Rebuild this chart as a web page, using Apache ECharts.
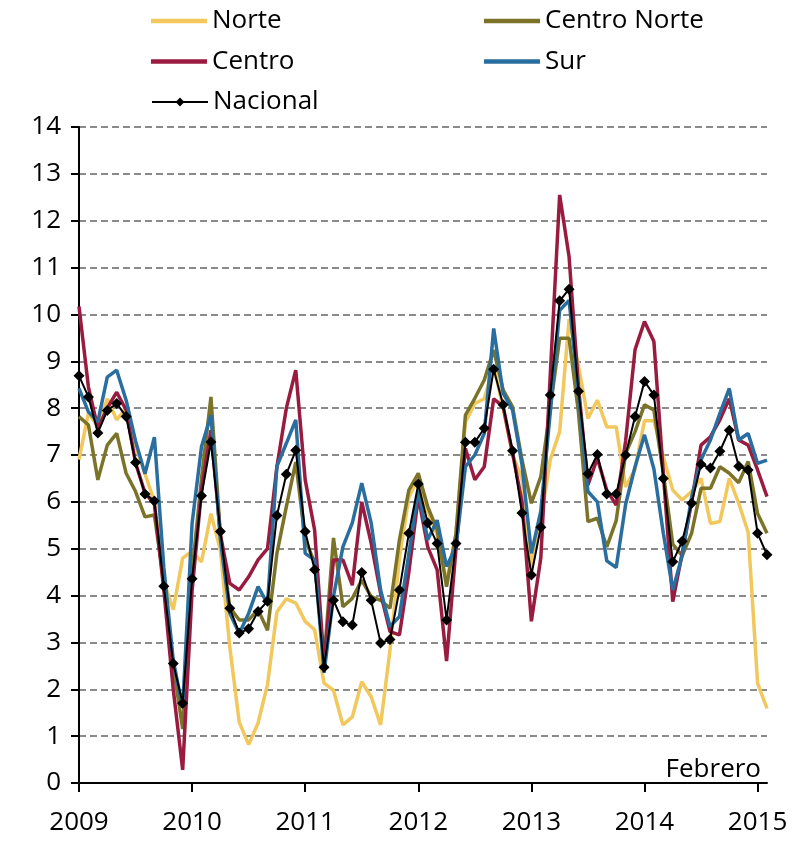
<!DOCTYPE html>
<html>
<head>
<meta charset="utf-8">
<script src="https://cdn.jsdelivr.net/npm/echarts@6/dist/echarts.min.js"></script>
<style>
  html, body { margin: 0; padding: 0; background: #fff; }
  #chart { width: 808px; height: 841px; }
</style>
</head>
<body>
<div id="chart"></div>
<script>
// meses ene 2009 - feb 2015
var years = ['2009', '2010', '2011', '2012', '2013', '2014', '2015'];
var months = [];
years.forEach(function (y) {
  for (var m = 1; m <= 12; m++) {
    if (y === '2015' && m > 2) break;
    months.push(y + '-' + (m < 10 ? '0' + m : m));
  }
});

var norte = [
  6.9, 7.9, 7.6, 8.2, 7.75, 8.0, 7.2, 6.6, 6.0, 4.3, 3.7, 4.8,
  4.95, 4.72, 5.75, 4.97, 2.9, 1.3, 0.82, 1.28, 2.1, 3.65, 3.93, 3.84,
  3.45, 3.27, 2.13, 1.98, 1.24, 1.41, 2.16, 1.84, 1.24, 2.84, 4.8, 6.1,
  6.5, 5.8, 5.3, 4.3, 5.3, 7.7, 8.1, 8.2, 8.9, 8.0, 7.0, 6.5,
  4.6, 5.6, 6.9, 7.5, 9.9, 8.9, 7.78, 8.17, 7.6, 7.6, 6.32, 6.7,
  7.73, 7.73, 6.96, 6.25, 6.04, 6.22, 6.5, 5.54, 5.58, 6.5, 5.97, 5.35,
  2.13, 1.59
];
var centroNorte = [
  7.82, 7.64, 6.47, 7.21, 7.46, 6.61, 6.22, 5.68, 5.72, 4.3, 2.5, 1.15,
  4.5, 6.5, 8.24, 5.3, 3.75, 3.48, 3.48, 3.7, 3.26, 4.9, 5.9, 6.85,
  5.2, 4.7, 2.6, 5.23, 3.76, 3.94, 4.33, 3.98, 3.9, 3.73, 5.19, 6.25,
  6.61, 5.9, 5.4, 4.19, 5.33, 7.85, 8.21, 8.6, 9.24, 8.39, 8.03, 6.9,
  5.97, 6.54, 8.0, 9.49, 9.49, 7.9, 5.58, 5.65, 5.04, 5.6, 7.03, 7.5,
  8.07, 7.96, 6.6, 5.1, 4.85, 5.33, 6.29, 6.29, 6.75, 6.61, 6.41, 6.86,
  5.75, 5.33
];
var centro = [
  10.17, 8.45, 7.57, 8.0, 8.34, 7.96, 6.83, 6.19, 5.95, 4.12, 2.0, 0.28,
  4.1, 6.25, 7.53, 5.3, 4.26, 4.12, 4.4, 4.76, 5.0, 6.75, 8.0, 8.81,
  6.47, 5.4, 2.56, 4.76, 4.76, 4.22, 6.0, 5.12, 4.05, 3.23, 3.16, 4.5,
  6.11, 5.04, 4.55, 2.6, 5.0, 7.14, 6.47, 6.75, 8.2, 8.04, 7.04, 6.0,
  3.45, 4.8, 8.7, 12.55, 11.23, 8.45, 6.36, 6.93, 6.25, 5.93, 7.3, 9.25,
  9.85, 9.42, 6.6, 3.87, 4.9, 6.0, 7.21, 7.39, 7.75, 8.2, 7.32, 7.21,
  6.68, 6.11
];
var sur = [
  8.42, 7.92, 7.71, 8.66, 8.81, 8.17, 7.3, 6.6, 7.38, 4.6, 2.62, 1.6,
  5.54, 7.18, 7.85, 5.2, 3.62, 3.19, 3.62, 4.19, 3.83, 6.76, 7.25, 7.75,
  4.9, 4.76, 2.35, 3.98, 5.04, 5.55, 6.4, 5.55, 4.12, 3.34, 3.55, 4.9,
  6.25, 5.19, 5.61, 4.62, 5.04, 6.75, 7.0, 7.46, 9.7, 8.32, 7.96, 6.8,
  4.9, 5.8, 7.9, 10.09, 10.3, 8.3, 6.22, 6.0, 4.74, 4.6, 5.95, 6.75,
  7.43, 6.7, 5.33, 4.12, 4.85, 6.1, 6.9, 7.32, 7.89, 8.42, 7.32, 7.46,
  6.82, 6.89
];
var nacional = [
  8.69, 8.24, 7.47, 7.95, 8.1, 7.82, 6.84, 6.17, 6.02, 4.2, 2.55, 1.7,
  4.36, 6.13, 7.28, 5.37, 3.73, 3.2, 3.29, 3.66, 3.88, 5.71, 6.59, 7.1,
  5.37, 4.55, 2.47, 3.9, 3.44, 3.37, 4.49, 3.9, 2.99, 3.06, 4.12, 5.33,
  6.38, 5.55, 5.11, 3.48, 5.11, 7.27, 7.27, 7.57, 8.83, 8.07, 7.09, 5.76,
  4.44, 5.46, 8.28, 10.29, 10.54, 8.36, 6.6, 7.01, 6.17, 6.17, 7.0, 7.82,
  8.57, 8.28, 6.5, 4.72, 5.16, 5.97, 6.8, 6.72, 7.08, 7.53, 6.76, 6.68,
  5.33, 4.87
];

var font = "'Open Sans', 'Noto Sans', sans-serif";

function regionLine(name, color, data) {
  return {
    name: name,
    type: 'line',
    symbol: 'none',
    lineStyle: { color: color, width: 3.5 },
    itemStyle: { color: color },
    data: data
  };
}

// una leyenda por bloque; las regiones solo llevan la raya
function legendBlock(left, top, names, icon, itemHeight) {
  return {
    orient: 'vertical',
    left: left,
    top: top,
    icon: icon,
    itemWidth: 56,
    itemHeight: itemHeight,
    itemGap: 10.5,
    textStyle: { fontSize: 26, lineHeight: 30, color: '#000', fontFamily: font },
    data: names
  };
}

var option = {
  animation: false,
  backgroundColor: '#fff',
  textStyle: { fontFamily: font },
  legend: [
    legendBlock(146, 1, ['Norte', 'Centro'], 'rect', 4.5),
    legendBlock(146, 82, ['Nacional'], 'inherit', 11),
    legendBlock(479, 1, ['Centro Norte', 'Sur'], 'rect', 4.5)
  ],
  grid: { left: 79, right: 41, top: 127, bottom: 58 },
  xAxis: {
    type: 'category',
    boundaryGap: false,
    data: months,
    axisLine: { lineStyle: { color: '#000', width: 2 } },
    axisTick: { interval: 11, length: 9, lineStyle: { color: '#000', width: 2 } },
    axisLabel: {
      interval: 11,
      margin: 27,
      fontSize: 26,
      color: '#000',
      formatter: function (value) {
        return value.substr(0, 4);
      }
    },
    splitLine: { show: false }
  },
  yAxis: {
    type: 'value',
    min: 0,
    max: 14,
    interval: 1,
    axisLine: { show: true, lineStyle: { color: '#000', width: 2 } },
    axisTick: { show: true, length: 8, lineStyle: { color: '#000', width: 2 } },
    axisLabel: { margin: 18, fontSize: 26, color: '#000' },
    splitLine: { lineStyle: { color: '#8a8a8a', width: 2, type: [7, 4] } }
  },
  graphic: [
    {
      type: 'text',
      right: 47,
      top: 757,
      style: { text: 'Febrero', font: '26px ' + font, fill: '#000' }
    }
  ],
  series: [
    regionLine('Norte', '#F2C75C', norte),
    regionLine('Centro Norte', '#7B7328', centroNorte),
    regionLine('Centro', '#991B40', centro),
    regionLine('Sur', '#2A6E9F', sur),
    {
      name: 'Nacional',
      type: 'line',
      symbol: 'diamond',
      symbolSize: 11,
      showAllSymbol: true,
      lineStyle: { color: '#000', width: 2 },
      itemStyle: { color: '#000' },
      data: nacional
    }
  ]
};

var myChart = echarts.init(document.getElementById('chart'));
myChart.setOption(option);
</script>
</body>
</html>
